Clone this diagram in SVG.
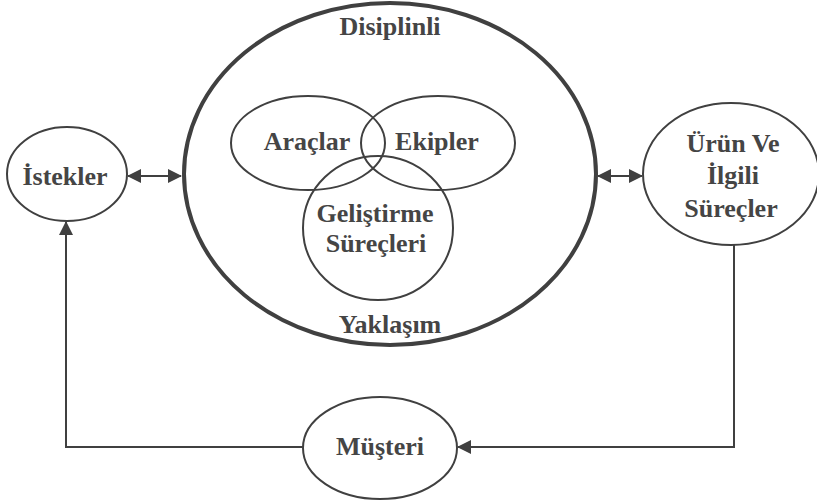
<svg xmlns="http://www.w3.org/2000/svg" width="817" height="503" viewBox="0 0 817 503">
<style>
.n{fill:none;stroke:#404040;stroke-width:2}
.big{fill:none;stroke:#404040;stroke-width:4}
.t{font-family:"Liberation Serif","Times New Roman",serif;font-weight:bold;font-size:26px;fill:#454545;text-anchor:middle}
.c{fill:none;stroke:#404040;stroke-width:2}
</style>
<defs>
<marker id="ah" markerUnits="userSpaceOnUse" markerWidth="14" markerHeight="14" refX="13" refY="7" orient="auto-start-reverse">
<path d="M0,0 L14,7 L0,14 Z" fill="#404040"/>
</marker>
</defs>
<rect width="817" height="503" fill="#fff"/>
<g id="yaklasim">
<ellipse class="big" cx="390" cy="174" rx="206" ry="171"/>
<text class="t" x="390" y="35">Disiplinli</text>
<text class="t" x="390" y="333">Yaklaşım</text>
</g>
<g id="araclar">
<ellipse class="n" cx="308" cy="143" rx="77" ry="47"/>
<text class="t" x="307" y="150">Araçlar</text>
</g>
<g id="ekipler">
<ellipse class="n" cx="438" cy="143" rx="77" ry="47"/>
<text class="t" x="437" y="150">Ekipler</text>
</g>
<g id="gelistirme">
<ellipse class="n" cx="378" cy="228" rx="75" ry="72"/>
<text class="t" x="375" y="222">Geliştirme</text>
<text class="t" x="376" y="252">Süreçleri</text>
</g>
<g id="istekler">
<ellipse class="n" cx="67" cy="174" rx="60" ry="47"/>
<text class="t" x="65" y="185">İstekler</text>
</g>
<g id="urun">
<ellipse class="n" cx="731" cy="174" rx="88" ry="71"/>
<text class="t" x="733" y="152">Ürün Ve</text>
<text class="t" x="733" y="184">İlgili</text>
<text class="t" x="731" y="217">Süreçler</text>
</g>
<g id="musteri">
<ellipse class="n" cx="380" cy="448" rx="77" ry="51"/>
<text class="t" x="380" y="455">Müşteri</text>
</g>
<g id="connectors">
<line class="c" x1="128" y1="176" x2="181" y2="176" marker-start="url(#ah)" marker-end="url(#ah)"/>
<line class="c" x1="598" y1="176" x2="642" y2="176" marker-start="url(#ah)" marker-end="url(#ah)"/>
<polyline class="c" points="734,245 734,447 458,447" marker-end="url(#ah)"/>
<polyline class="c" points="303,447 66,447 66,222" marker-end="url(#ah)"/>
</g>
</svg>
